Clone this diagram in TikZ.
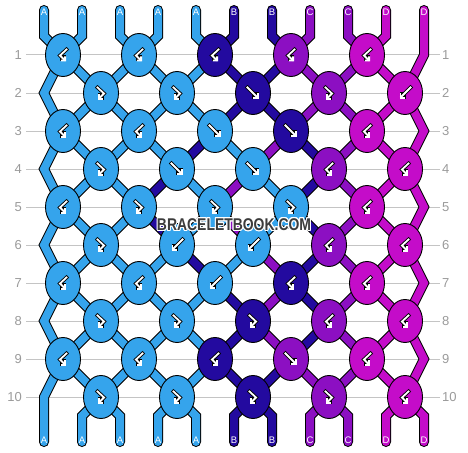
\documentclass[tikz,border=0pt]{standalone}
\usepackage{fontspec}
\setmainfont{Liberation Sans}
\usepackage{graphicx}
\usepackage{contour}
\contourlength{1.2pt}
\usetikzlibrary{shapes.geometric,arrows.meta}

\definecolor{colA}{HTML}{35A4EC}
\definecolor{colB}{HTML}{230A9F}
\definecolor{colC}{HTML}{8C0FC2}
\definecolor{colD}{HTML}{C40CC9}
\definecolor{rulegray}{HTML}{C4C4C4}
\definecolor{numgray}{HTML}{9A9A9A}
\definecolor{markgray}{HTML}{3C3C3C}

\begin{document}
\begin{tikzpicture}[x=1pt,y=-1pt,
    strand/.style={draw=black,double=#1,line width=1pt,double distance=8pt,line cap=round,line join=miter},
    knot/.style={draw=black,fill=#1,ellipse,minimum width=35pt,minimum height=43pt,inner sep=0pt,line width=0.9pt},
    iconedge/.style={draw=black,line width=3.6pt,line cap=rect,line join=miter,-{Straight Barb[length=3pt,width=6pt]}},
    iconfill/.style={draw=white,line width=1.8pt,line cap=rect,line join=miter,-{Straight Barb[length=3pt,width=6pt]}},
    knF/.style={insert path={(-5.5,-5.5) -- (5.5,5.5)}},
    knB/.style={insert path={(5.5,-5.5) -- (-5.5,5.5)}},
    knBF/.style={insert path={(3.5,-5.5) -- (-3,0.5) -- (3,6.5)}},
    knFB/.style={insert path={(-3.5,-5.5) -- (3,0.5) -- (-3,6.5)}},
    rowline/.style={draw=rulegray,line width=1pt},
    rownum/.style={text=numgray,font=\fontsize{13}{13}\selectfont,inner sep=0pt},
    endlbl/.style={text=white,font=\fontsize{9.5}{10}\selectfont,inner sep=0pt}]

    \useasboundingbox (0,0) rectangle (468,452);

    % row guides and numbers
    \foreach \r in {1,...,10} {
        \node [rownum,anchor=east] (nl-\r) at (22,17+38*\r) {\r};
        \node [rownum,anchor=west] (nr-\r) at (442,17+38*\r) {\r};
        \draw [rowline] ([xshift=4pt]nl-\r.east) -- ([xshift=-2pt]nr-\r.west);
    }

    % string ends
    \foreach \p in {1,...,11} {
        \coordinate (top-\p) at ({44+38*(\p-1)},10);
        \coordinate (tb-\p) at ({44+38*(\p-1)},36);
        \coordinate (bt-\p) at ({44+38*(\p-1)},416);
        \coordinate (bot-\p) at ({44+38*(\p-1)},442);
    }

    % positions in each row
    \foreach \r in {1,...,10}
        \foreach \p in {1,...,11} {
            \pgfmathsetmacro\qx{mod(\r,2)==1 ? (\p==11 ? 424 : 63+76*int((\p-1)/2)) : (\p==1 ? 44 : 25+76*int(\p/2))}
            \coordinate (q-\r-\p) at (\qx,17+38*\r);
        }

    % strings
    \foreach \c/\s/\e/\ps in {A/1/1/{1,1,1,1,1,1,1,1,1,1},
                              A/2/2/{2,2,2,2,2,2,2,2,2,2},
                              A/3/3/{3,3,3,3,3,3,3,3,3,3},
                              A/4/4/{4,4,4,4,5,5,4,4,4,4},
                              A/5/5/{5,5,5,6,7,7,6,5,5,5},
                              B/6/7/{6,6,7,8,8,8,8,8,8,7},
                              B/7/6/{7,7,6,5,4,4,5,6,6,6},
                              C/8/8/{8,8,8,7,6,6,7,7,7,8},
                              C/9/9/{9,9,9,9,9,9,9,9,9,9},
                              D/10/11/{10,10,11,11,11,11,11,11,11,11},
                              D/11/10/{11,11,10,10,10,10,10,10,10,10}}
        \draw [strand=col\c] (top-\s) -- (tb-\s) \foreach \p [count=\r] in \ps { -- (q-\r-\p) } -- (bt-\e) -- (bot-\e);

    \foreach \l [count=\p] in {A,A,A,A,A,B,B,C,C,D,D} {
        \node [endlbl] (lt-\p) at ({44+38*(\p-1)},12) {\l};
        \node [endlbl] (lb-\p) at ({44+38*(\p-1)},440) {\l};
    }

    % knots
    \foreach \r/\row in {1/{A/BF,A/BF,B/BF,C/BF,D/BF},
                         2/{A/FB,A/FB,B/F,C/FB,D/B},
                         3/{A/BF,A/BF,A/F,B/F,D/BF},
                         4/{A/FB,A/F,A/F,C/BF,D/BF},
                         5/{A/BF,A/FB,A/FB,A/FB,D/BF},
                         6/{A/FB,A/B,A/B,C/BF,D/BF},
                         7/{A/BF,A/BF,A/B,B/BF,D/BF},
                         8/{A/FB,A/FB,B/FB,C/BF,D/BF},
                         9/{A/BF,A/BF,B/BF,C/F,D/BF},
                         10/{A/FB,A/FB,B/FB,C/FB,D/BF}}
        \foreach \c/\t [count=\k] in \row {
            \pgfmathtruncatemacro\pp{2*\k-mod(\r,2)}
            \node [knot=col\c] (k-\r-\k) at (q-\r-\pp) {};
            \draw [iconedge,shift={(k-\r-\k.center)},kn\t];
            \draw [iconfill,shift={(k-\r-\k.center)},kn\t];
        }

    \node [text=markgray,font=\bfseries\fontsize{17}{17}\selectfont,inner sep=0pt] (wm) at (234,225)
        {\scalebox{0.82}[1]{\contour{white}{BRACELETBOOK.COM}}};

\end{tikzpicture}
\end{document}
